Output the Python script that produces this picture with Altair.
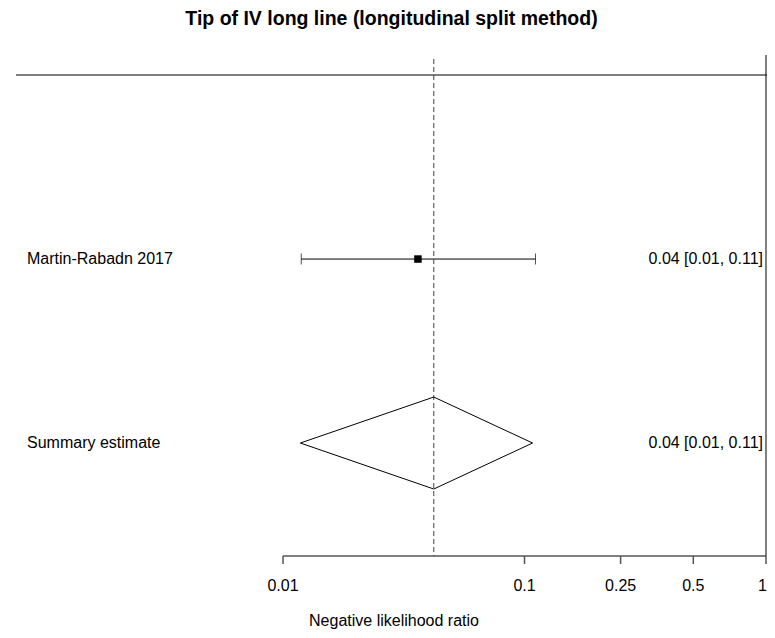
import altair as alt
import pandas as pd

# ---- data ----
title_text = "Tip of IV long line (longitudinal split method)"
axis_title = "Negative likelihood ratio"
studies = ["Martin-Rabadn 2017"]
study_est = [0.0362]
study_lo = [0.0119]
study_hi = [0.111]
summary_name = "Summary estimate"
summary_est = 0.0421
summary_lo = 0.0118
summary_hi = 0.108
tick_values = [0.01, 0.1, 0.25, 0.5, 1.0]

FONT = "Liberation Sans"
W, H = 751, 501
k = len(studies)

def fmt(e, l, h):
    return f"{e:.2f} [{l:.2f}, {h:.2f}]"

study_df = pd.DataFrame({
    "name": studies,
    "est": study_est,
    "lo": study_lo,
    "hi": study_hi,
    "row": [float(k - i) for i in range(k)],
})
study_df["ci"] = [fmt(e, l, h) for e, l, h in zip(study_est, study_lo, study_hi)]

summary_df = pd.DataFrame({
    "name": [summary_name], "est": [summary_est], "lo": [summary_lo],
    "hi": [summary_hi], "row": [0.0], "ci": [fmt(summary_est, summary_lo, summary_hi)],
})

half = 0.25
diamond_df = pd.DataFrame({
    "x": [summary_lo, summary_est, summary_hi, summary_est, summary_lo],
    "y": [0.0, half, 0.0, -half, 0.0],
    "o": [0, 1, 2, 3, 4],
})

frame_df = pd.DataFrame({
    "xmin": [tick_values[0]], "xmax": [tick_values[-1]], "top": [float(k + 1)],
    "label": [axis_title],
})

ticks_df = pd.DataFrame({"t": tick_values, "lab": [f"{v:g}" for v in tick_values]})
inner_ticks = ticks_df.iloc[:-1]
last_tick = ticks_df.iloc[-1:]

xscale = alt.Scale(type="log", domain=[0.000784, 1.0096], nice=False)
yscale = alt.Scale(domain=[-0.614, 2.109], nice=False, zero=False)

def X(field):
    return alt.X(field, type="quantitative", scale=xscale, axis=None)

def Y(field):
    return alt.Y(field, type="quantitative", scale=yscale, axis=None)

ci_rule = alt.Chart(study_df).mark_rule(color="#000", strokeWidth=1).encode(
    x=X("lo"), x2=alt.X2("hi"), y=Y("row"))
caps = alt.Chart(study_df).transform_fold(["lo", "hi"], as_=["end", "v"]).mark_tick(
    color="#000", size=11, thickness=1, orient="vertical").encode(
    x=X("v"), y=Y("row"))
squares = alt.Chart(study_df).mark_square(color="#000", size=56, opacity=1).encode(
    x=X("est"), y=Y("row"))

diamond = alt.Chart(diamond_df).mark_line(color="#000", strokeWidth=1).encode(
    x=X("x"), y=Y("y"), order=alt.Order("o", type="quantitative"))

all_rows = pd.concat([study_df, summary_df], ignore_index=True)
left_text = alt.Chart(all_rows).mark_text(
    align="left", baseline="middle", font=FONT, fontSize=16, color="#000").encode(
    x=alt.value(11), y=Y("row"), text=alt.Text("name", type="nominal"))
right_text = alt.Chart(all_rows).mark_text(
    align="right", baseline="middle", font=FONT, fontSize=16, color="#000").encode(
    x=alt.value(747), y=Y("row"), text=alt.Text("ci", type="nominal"))

top_line = alt.Chart(frame_df).mark_rule(color="#555", strokeWidth=1.5).encode(
    y=Y("top"), x=alt.value(0), x2=alt.value(W))
right_line = alt.Chart(frame_df).mark_rule(color="#000", strokeWidth=1).encode(
    x=X("xmax"), y=alt.value(0), y2=alt.value(H))
ref_line = alt.Chart(summary_df).mark_rule(color="#444", strokeWidth=1, strokeDash=[5, 3]).encode(
    x=X("est"), y=alt.value(4), y2=alt.value(H))

# x axis: line, ticks, tick labels and title, placed by the x scale
axis_line = alt.Chart(frame_df).mark_rule(color="#555", strokeWidth=1.5).encode(
    x=X("xmin"), x2=alt.X2("xmax"), y=alt.value(H))
axis_ticks = alt.Chart(ticks_df).mark_rule(color="#555", strokeWidth=1.5).encode(
    x=X("t"), y=alt.value(H), y2=alt.value(H + 8))
axis_labels = alt.Chart(inner_ticks).mark_text(
    align="center", baseline="middle", font=FONT, fontSize=16, color="#000").encode(
    x=X("t"), y=alt.value(H + 30), text=alt.Text("lab", type="nominal"))
axis_label_last = alt.Chart(last_tick).mark_text(
    align="right", baseline="middle", font=FONT, fontSize=16, color="#000", dx=1).encode(
    x=X("t"), y=alt.value(H + 30), text=alt.Text("lab", type="nominal"))
axis_title_mark = alt.Chart(frame_df).mark_text(
    align="center", baseline="middle", font=FONT, fontSize=16, color="#000").encode(
    x=alt.value(378), y=alt.value(H + 65), text=alt.Text("label", type="nominal"))

chart = alt.layer(
    axis_line, axis_ticks, axis_labels, axis_label_last, axis_title_mark,
    ci_rule, top_line, right_line, ref_line, caps, squares, diamond,
    left_text, right_text,
).properties(
    width=W, height=H,
    title=alt.TitleParams(title_text, font=FONT, fontSize=19.5, fontWeight="bold",
                          color="#000", anchor="middle", offset=25),
    autosize=alt.AutoSizeParams(type="none"),
    padding={"left": 8, "top": 47, "right": 0, "bottom": 74},
).configure_view(strokeWidth=0)

chart.save("out.html", embed_options={"renderer": "svg", "actions": False})
